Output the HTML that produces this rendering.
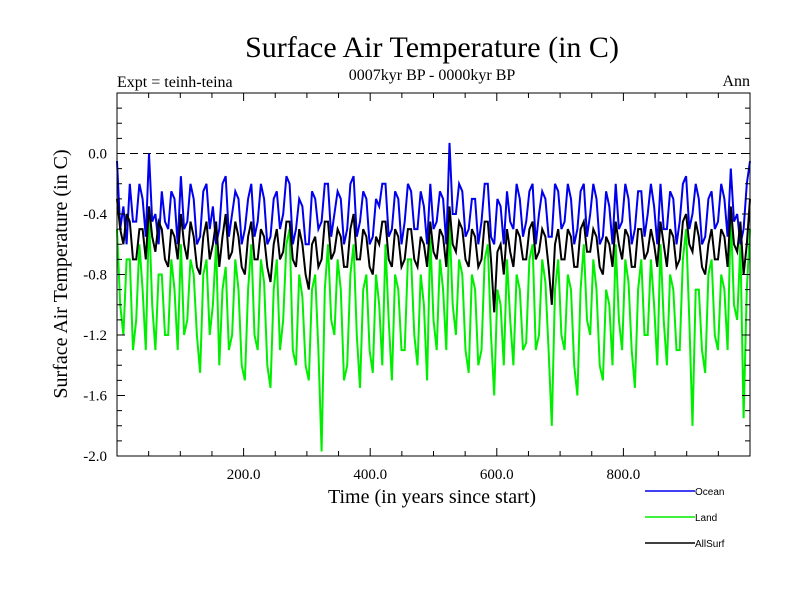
<!DOCTYPE html>
<html><head><meta charset="utf-8"><style>
body{margin:0;background:#fff}
svg text.serif{font-family:"Liberation Serif",serif}
svg text.sans{font-family:"Liberation Sans",sans-serif}
</style></head><body>
<svg id="c" width="800" height="600">
<text class="serif" x="432" y="57" font-size="30" text-anchor="middle">Surface Air Temperature (in C)</text>
<text class="serif" x="117" y="87" font-size="16">Expt = teinh-teina</text>
<text class="serif" x="432" y="80" font-size="16" text-anchor="middle">0007kyr BP - 0000kyr BP</text>
<text class="serif" x="750" y="86" font-size="16" text-anchor="end">Ann</text>
<text class="serif" x="432" y="503" font-size="20" text-anchor="middle">Time (in years since start)</text>
<text class="serif" transform="translate(67,274) rotate(-90)" font-size="20" text-anchor="middle">Surface Air Temperature (in C)</text>
<g id="plot"></g>
<g id="axes"></g>
<g id="legend"></g>
</svg>
<script>
const ocean=[-0.05,-0.5,-0.35,-0.6,-0.2,-0.45,-0.45,-0.2,-0.3,-0.55,0.0,-0.45,-0.4,-0.6,-0.25,-0.45,-0.5,-0.25,-0.3,-0.6,-0.15,-0.5,-0.45,-0.2,-0.3,-0.6,-0.55,-0.25,-0.2,-0.5,-0.35,-0.6,-0.5,-0.2,-0.15,-0.55,-0.4,-0.25,-0.3,-0.6,-0.5,-0.3,-0.2,-0.55,-0.45,-0.2,-0.3,-0.6,-0.55,-0.3,-0.25,-0.5,-0.4,-0.15,-0.2,-0.6,-0.5,-0.3,-0.35,-0.6,-0.6,-0.25,-0.3,-0.5,-0.45,-0.2,-0.2,-0.55,-0.4,-0.25,-0.3,-0.6,-0.5,-0.2,-0.15,-0.55,-0.45,-0.25,-0.3,-0.6,-0.55,-0.3,-0.35,-0.2,-0.2,-0.55,-0.5,-0.25,-0.3,-0.6,-0.45,-0.2,-0.25,-0.5,-0.5,-0.25,-0.35,-0.6,-0.2,-0.5,-0.45,-0.25,-0.3,-0.6,0.07,-0.4,-0.4,-0.2,-0.25,-0.55,-0.5,-0.3,-0.3,-0.6,-0.45,-0.2,-0.2,-0.55,-0.6,-0.3,-0.35,-0.6,-0.25,-0.45,-0.5,-0.2,-0.3,-0.55,-0.45,-0.25,-0.2,-0.6,-0.4,-0.25,-0.3,-0.55,-0.55,-0.2,-0.25,-0.5,-0.45,-0.2,-0.3,-0.6,-0.5,-0.25,-0.2,-0.55,-0.4,-0.2,-0.3,-0.6,-0.55,-0.25,-0.35,-0.6,-0.2,-0.5,-0.45,-0.2,-0.3,-0.6,-0.5,-0.25,-0.25,-0.55,-0.4,-0.2,-0.35,-0.6,-0.2,-0.5,-0.5,-0.25,-0.3,-0.6,-0.45,-0.2,-0.15,-0.5,-0.4,-0.2,-0.3,-0.6,-0.55,-0.3,-0.25,-0.5,-0.45,-0.2,-0.3,-0.55,-0.1,-0.45,-0.4,-0.6,-0.5,-0.2,-0.05];
const land=[-0.5,-1.0,-1.2,-0.7,-0.7,-1.3,-1.1,-0.6,-0.9,-1.3,-0.4,-1.0,-1.3,-0.8,-0.8,-1.2,-1.2,-0.7,-0.9,-1.3,-0.6,-1.2,-1.1,-0.7,-0.8,-1.2,-1.45,-0.8,-0.7,-1.2,-1.0,-0.6,-1.4,-0.9,-0.75,-1.3,-1.2,-0.7,-0.9,-1.4,-1.5,-0.9,-0.6,-1.2,-1.3,-0.7,-0.85,-1.4,-1.55,-0.9,-0.7,-1.3,-1.1,-0.6,-0.5,-1.3,-1.4,-0.8,-0.95,-1.4,-1.5,-0.9,-0.8,-1.3,-1.97,-0.9,-0.6,-1.1,-1.2,-0.7,-0.9,-1.5,-1.4,-0.8,-0.6,-1.2,-1.55,-0.9,-0.8,-1.3,-1.45,-0.8,-1.0,-1.4,-0.6,-1.1,-1.5,-0.8,-0.9,-1.3,-1.3,-0.7,-0.7,-1.2,-1.4,-0.8,-1.0,-1.5,-0.55,-1.1,-1.3,-0.7,-0.9,-1.3,-0.45,-1.0,-1.2,-0.7,-0.8,-1.3,-1.45,-0.8,-0.9,-1.4,-1.3,-0.7,-0.6,-1.2,-1.6,-0.9,-1.0,-1.4,-0.7,-1.1,-1.4,-0.8,-0.9,-1.3,-1.25,-0.7,-0.6,-1.3,-1.2,-0.7,-0.85,-1.3,-1.8,-0.9,-0.7,-1.2,-1.3,-0.8,-0.9,-1.4,-1.6,-0.9,-0.6,-1.1,-1.2,-0.7,-0.9,-1.4,-1.5,-0.9,-1.0,-1.4,-0.6,-1.1,-1.3,-0.7,-0.85,-1.3,-1.55,-0.9,-0.7,-1.2,-1.2,-0.7,-1.0,-1.4,-0.6,-1.1,-1.4,-0.8,-0.9,-1.3,-1.3,-0.7,-0.5,-1.1,-1.8,-0.9,-0.9,-1.3,-1.45,-0.8,-0.7,-1.2,-1.3,-0.8,-0.9,-1.3,-0.4,-1.0,-1.1,-0.6,-1.75,-0.9,-0.5];
const allsurf=[-0.3,-0.5,-0.6,-0.4,-0.45,-0.7,-0.7,-0.5,-0.5,-0.7,-0.35,-0.55,-0.65,-0.45,-0.5,-0.7,-0.75,-0.5,-0.55,-0.7,-0.4,-0.6,-0.7,-0.45,-0.55,-0.75,-0.8,-0.55,-0.45,-0.7,-0.6,-0.45,-0.75,-0.55,-0.4,-0.7,-0.65,-0.45,-0.55,-0.75,-0.8,-0.55,-0.45,-0.7,-0.7,-0.5,-0.55,-0.75,-0.85,-0.6,-0.5,-0.7,-0.65,-0.45,-0.45,-0.7,-0.75,-0.5,-0.6,-0.8,-0.9,-0.6,-0.55,-0.75,-0.7,-0.45,-0.45,-0.7,-0.65,-0.5,-0.55,-0.75,-0.75,-0.5,-0.4,-0.7,-0.7,-0.5,-0.55,-0.75,-0.8,-0.55,-0.6,-0.45,-0.45,-0.7,-0.75,-0.5,-0.55,-0.75,-0.7,-0.5,-0.5,-0.7,-0.75,-0.55,-0.6,-0.75,-0.45,-0.65,-0.7,-0.5,-0.55,-0.75,-0.35,-0.6,-0.65,-0.45,-0.5,-0.7,-0.75,-0.5,-0.55,-0.75,-0.7,-0.45,-0.45,-0.7,-1.05,-0.65,-0.6,-0.8,-0.5,-0.65,-0.75,-0.5,-0.55,-0.7,-0.7,-0.5,-0.45,-0.7,-0.65,-0.5,-0.55,-0.75,-1.0,-0.6,-0.5,-0.7,-0.7,-0.5,-0.55,-0.75,-0.75,-0.5,-0.45,-0.65,-0.65,-0.5,-0.55,-0.75,-0.8,-0.55,-0.6,-0.75,-0.45,-0.6,-0.7,-0.5,-0.55,-0.75,-0.75,-0.5,-0.5,-0.7,-0.65,-0.5,-0.6,-0.75,-0.45,-0.6,-0.75,-0.5,-0.55,-0.75,-0.7,-0.45,-0.4,-0.6,-0.65,-0.45,-0.55,-0.75,-0.8,-0.6,-0.5,-0.7,-0.7,-0.5,-0.55,-0.75,-0.35,-0.6,-0.65,-0.45,-0.8,-0.6,-0.3];
const xTicks=[200,400,600,800];
const xTickLabels=["200.0","400.0","600.0","800.0"];
const yTicks=[0.0,-0.4,-0.8,-1.2,-1.6,-2.0];
const yTickLabels=["0.0","-0.4","-0.8","-1.2","-1.6","-2.0"];
const seriesNames=["Ocean","Land","AllSurf"];

const NS="http://www.w3.org/2000/svg";
const L=117,R=750,T=93,B=456;
const X=v=>L+(v-0)/(1000-0)*(R-L);
const Y=v=>T+(0.4-v)/(0.4+2.0)*(B-T);
function mk(tag,attrs,parent){const e=document.createElementNS(NS,tag);for(const k in attrs)e.setAttribute(k,attrs[k]);parent.appendChild(e);return e;}
const plot=document.getElementById('plot'),axes=document.getElementById('axes'),leg=document.getElementById('legend');

const zl=mk('line',{x1:L,x2:R,y1:Y(0),y2:Y(0),stroke:'#000','stroke-dasharray':'8,5','stroke-width':1},plot);



function series(arr,color,name){
  const pts=arr.map((v,i)=>X(i*1000/(arr.length-1)).toFixed(1)+','+Y(v).toFixed(1)).join(' ');
  const p=mk('polyline',{points:pts,fill:'none',stroke:color,'stroke-width':2},plot);
  
  
}
series(land,'#00ee00','land-series');
series(ocean,'#0000ee','ocean-series');
series(allsurf,'#000000','allsurf-series');

const fr=mk('rect',{x:L,y:T,width:R-L,height:B-T,fill:'none',stroke:'#000','stroke-width':1},axes);


for(let v=50;v<1000;v+=50){
  const big=v%200===0,len=big?8:5;
  mk('line',{x1:X(v),x2:X(v),y1:B,y2:B-len,stroke:'#000'},axes);
  mk('line',{x1:X(v),x2:X(v),y1:T,y2:T+len,stroke:'#000'},axes);
}
xTicks.forEach((v,i)=>{
  const t=mk('text',{class:'serif',x:X(v),y:B+23,'font-size':15,'text-anchor':'middle'},axes);
  t.textContent=xTickLabels[i];
  
  
});
for(let k=-20;k<=4;k++){
  const v=k/10,big=k%4===0,len=big?8:5;
  mk('line',{x1:L,x2:L+len,y1:Y(v),y2:Y(v),stroke:'#000'},axes);
  mk('line',{x1:R,x2:R-len,y1:Y(v),y2:Y(v),stroke:'#000'},axes);
}
yTicks.forEach((v,i)=>{
  const t=mk('text',{class:'serif',x:L-10,y:Y(v)+5,'font-size':15,'text-anchor':'end'},axes);
  t.textContent=yTickLabels[i];
  
  
});
const cols=['#0000ee','#00ee00','#000000'];
seriesNames.forEach((n,i)=>{
  const y=491+i*26;
  const g=mk('g',{},leg);
  
  
  mk('line',{x1:645,x2:695,y1:y,y2:y,stroke:cols[i],'stroke-width':1.5},g);
  const t=mk('text',{class:'sans',x:695,y:y+4,'font-size':10},g);
  t.textContent=n;
});
</script>
</body></html>
